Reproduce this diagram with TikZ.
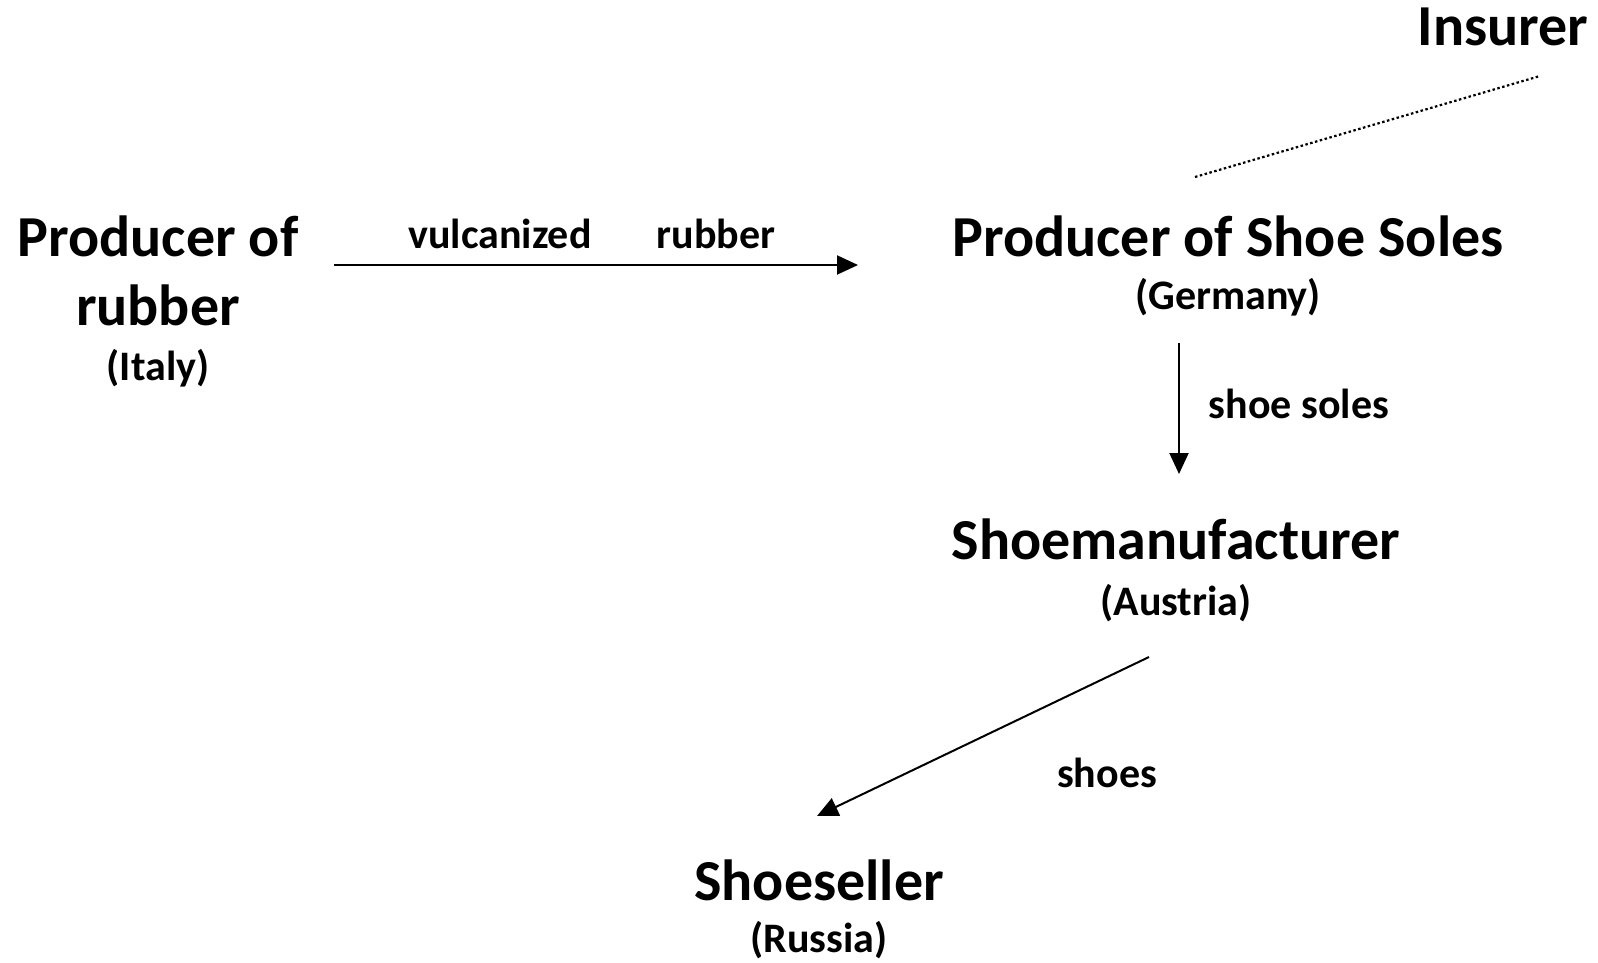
\documentclass[tikz,border=0pt]{standalone}
\usepackage{fontspec}
\setmainfont{Carlito}
\usetikzlibrary{arrows.meta}
\begin{document}
\begin{tikzpicture}[x=1pt,y=-1pt,
  title/.style={font=\fontsize{58}{58}\selectfont\bfseries, anchor=base, inner sep=0pt},
  country/.style={font=\fontsize{42}{42}\selectfont\bfseries, anchor=base, inner sep=0pt},
  flowlabel/.style={font=\fontsize{42}{42}\selectfont\bfseries, anchor=base, inner sep=0pt},
  flow/.style={line width=2pt, -{Triangle[length=21pt,width=19pt]}},
  link/.style={line width=2.2pt, dash pattern=on 2.5pt off 2.5pt}]
\useasboundingbox (0,0) rectangle (1598,963);

% actors
\node[title] (insurer) at (1503,46) {Insurer};
\node[title] (rubberA) at (158,256) {Producer of};
\node[title] (rubberB) at (158,325) {rubber};
\node[country] (italy) at (158,380) {(Italy)};
\node[title] (soles) at (1228,256) {Producer of Shoe Soles};
\node[country] (germany) at (1228,309) {(Germany)};
\node[title] (maker) at (1176,559) {Shoemanufacturer};
\node[country] (austria) at (1176,615) {(Austria)};
\node[title] (seller) at (819,900) {Shoeseller};
\node[country] (russia) at (819,952) {(Russia)};

% connector end points
\coordinate (rubOut) at (334,265);
\coordinate (solIn) at (858,265);
\coordinate (solOut) at (1179,343);
\coordinate (makIn) at (1179,474);
\coordinate (makOut) at (1149,657);
\coordinate (selIn) at (817,816);
\coordinate (insA) at (1195,177);
\coordinate (insB) at (1540,76);

% goods flow
\draw[flow] (rubOut) -- (solIn);
\draw[flow] (solOut) -- (makIn);
\draw[flow] (makOut) -- (selIn);
\draw[link] (insA) -- (insB);

% flow labels
\node[flowlabel] (lblVulc) at (500,248) {vulcanized};
\node[flowlabel] (lblRub) at (716,248) {rubber};
\node[flowlabel] (lblSoles) at (1299,418) {shoe soles};
\node[flowlabel] (lblShoes) at (1107,787) {shoes};
\end{tikzpicture}
\end{document}
